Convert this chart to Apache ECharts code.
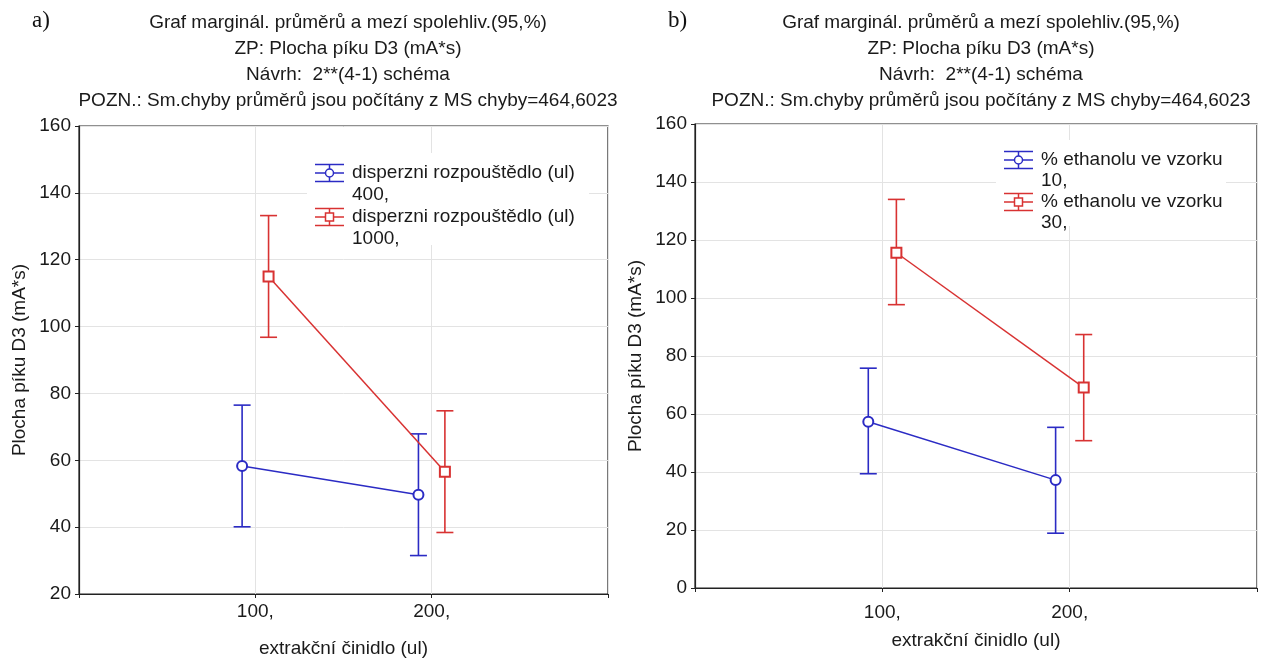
<!DOCTYPE html>
<html>
<head>
<meta charset="utf-8">
<script src="https://cdn.jsdelivr.net/npm/echarts@6/dist/echarts.min.js"></script>
<style>
html,body{margin:0;padding:0;background:#fff;}
#chart{width:1262px;height:663px;}
</style>
</head>
<body>
<div id="chart"></div>
<script>
// ---------- data ----------
const categories = ["100,", "200,"];
const titleLines = [
  "Graf marginál. průměrů a mezí spolehliv.(95,%)",
  "ZP: Plocha píku D3 (mA*s)",
  "Návrh:  2**(4-1) schéma",
  "POZN.: Sm.chyby průměrů jsou počítány z MS chyby=464,6023"
];
const yAxisTitle = "Plocha píku D3 (mA*s)";
const xAxisTitle = "extrakční činidlo (ul)";

// panel a
const aSeriesNames = [["disperzni rozpouštědlo (ul)", "400,"], ["disperzni rozpouštědlo (ul)", "1000,"]];
const aBlueMean = [58.3, 49.7];
const aBlueLow  = [40.1, 31.5];
const aBlueHigh = [76.5, 67.9];
const aRedMean  = [115.0, 56.6];
const aRedLow   = [96.8, 38.4];
const aRedHigh  = [133.2, 74.8];
const aYTicks = [20, 160, 20]; // min, max, step

// panel b
const bSeriesNames = [["% ethanolu ve vzorku", "10,"], ["% ethanolu ve vzorku", "30,"]];
const bBlueMean = [57.3, 37.2];
const bBlueLow  = [39.4, 18.9];
const bBlueHigh = [75.8, 55.4];
const bRedMean  = [115.6, 69.1];
const bRedLow   = [97.7, 50.8];
const bRedHigh  = [134.0, 87.4];
const bYTicks = [0, 160, 20];

// ---------- styling ----------
const BLUE = '#2b2bc4';
const RED = '#d83232';
const FONT = '"Liberation Sans", Arial, sans-serif';
const FS = 19;
const TXT = '#1a1a1a';
const OFF = 0.075;

const grids = [
  {left: 79, top: 126, width: 529, height: 470},
  {left: 695, top: 124, width: 562, height: 464}
];

function xAxisFor(i, lblMargin, gap) {
  return {
    type: 'value', gridIndex: i, min: 0, max: 3, interval: 1,
    name: xAxisTitle, nameLocation: 'middle', nameGap: gap,
    nameTextStyle: {fontFamily: FONT, fontSize: FS, color: TXT},
    axisLine: {show: true, lineStyle: {color: '#222', width: 1.2}},
    axisTick: {show: true, length: 4, lineStyle: {color: '#222'}},
    axisLabel: {fontFamily: FONT, fontSize: FS, color: TXT, margin: lblMargin,
      formatter: v => (v >= 1 && v <= categories.length) ? categories[v - 1] : ''},
    splitLine: {show: true, lineStyle: {color: '#e3e3e3', width: 1}}
  };
}
function yAxisFor(i, t) {
  return {
    type: 'value', gridIndex: i, min: t[0], max: t[1], interval: t[2],
    name: yAxisTitle, nameLocation: 'middle', nameGap: 50,
    nameTextStyle: {fontFamily: FONT, fontSize: FS, color: TXT},
    axisLine: {show: true, lineStyle: {color: '#222', width: 1.2}},
    axisTick: {show: true, length: 4, lineStyle: {color: '#222'}},
    axisLabel: {fontFamily: FONT, fontSize: FS, color: TXT, margin: 8},
    splitLine: {show: true, lineStyle: {color: '#e3e3e3', width: 1}}
  };
}

function pts(means, off) { return means.map((m, k) => [k + 1 + off, m]); }
function bars(lows, highs, off) { return lows.map((l, k) => [k + 1 + off, l, highs[k]]); }

function errSeries(i, data, color, name) {
  return {
    type: 'custom', name: name, xAxisIndex: i, yAxisIndex: i, z: 3,
    data: data, encode: {x: 0, y: [1, 2]},
    renderItem: function (params, api) {
      const x = api.value(0);
      const lo = api.coord([x, api.value(1)]);
      const hi = api.coord([x, api.value(2)]);
      const w = 8.5;
      const st = {stroke: color, lineWidth: 1.6};
      return {type: 'group', children: [
        {type: 'line', shape: {x1: lo[0], y1: lo[1], x2: hi[0], y2: hi[1]}, style: st},
        {type: 'line', shape: {x1: lo[0] - w, y1: lo[1], x2: lo[0] + w, y2: lo[1]}, style: st},
        {type: 'line', shape: {x1: hi[0] - w, y1: hi[1], x2: hi[0] + w, y2: hi[1]}, style: st}
      ]};
    }
  };
}
function lineSeries(i, data, color, symbol, name) {
  return {
    type: 'line', name: name, xAxisIndex: i, yAxisIndex: i, z: 4,
    data: data, symbol: symbol, symbolSize: 10,
    lineStyle: {color: color, width: 1.5},
    itemStyle: {color: color, borderColor: color, borderWidth: 1.5},
    animation: false
  };
}

function legendGroup(x, y, names, step, lh, bgW, bgH) {
  const Z = 20;
  const children = [{type: 'rect', z: Z, shape: {x: -8, y: -20, width: bgW, height: bgH}, style: {fill: '#ffffff', stroke: null}}];
  const colors = [BLUE, RED];
  names.forEach((nm, k) => {
    const cy = k * step;
    const c = colors[k];
    const st = {stroke: c, lineWidth: 1.5, fill: null};
    children.push({type: 'line', z: Z + 1, shape: {x1: 0, y1: cy - 8.5, x2: 29, y2: cy - 8.5}, style: st});
    children.push({type: 'line', z: Z + 1, shape: {x1: 0, y1: cy, x2: 29, y2: cy}, style: st});
    children.push({type: 'line', z: Z + 1, shape: {x1: 0, y1: cy + 8.5, x2: 29, y2: cy + 8.5}, style: st});
    children.push({type: 'line', z: Z + 1, shape: {x1: 14.5, y1: cy - 8.5, x2: 14.5, y2: cy + 8.5}, style: st});
    if (k === 0) children.push({type: 'circle', z: Z + 2, shape: {cx: 14.5, cy: cy, r: 4}, style: {stroke: c, lineWidth: 1.5, fill: '#fff'}});
    else children.push({type: 'rect', z: Z + 2, shape: {x: 10.5, y: cy - 4, width: 8, height: 8}, style: {stroke: c, lineWidth: 1.5, fill: '#fff'}});
    nm.forEach((ln, j) => {
      children.push({type: 'text', z: Z + 2, x: 37, y: cy + j * lh, style: {text: ln, fontSize: FS, fontFamily: FONT, fill: TXT, verticalAlign: 'middle', textVerticalAlign: 'middle'}});
    });
  });
  return {type: 'group', x: x, y: y, z: Z, children: children};
}

const chart = echarts.init(document.getElementById('chart'), null, {renderer: 'canvas'});
chart.setOption({
  animation: false,
  backgroundColor: '#fff',
  title: [
    {text: titleLines.join('\n'), left: 343, top: 5, textAlign: 'center',
     textStyle: {fontFamily: FONT, fontSize: FS, fontWeight: 'normal', color: TXT, lineHeight: 26}},
    {text: titleLines.join('\n'), left: 976, top: 5, textAlign: 'center',
     textStyle: {fontFamily: FONT, fontSize: FS, fontWeight: 'normal', color: TXT, lineHeight: 26}}
  ],
  grid: grids.map(g => Object.assign({show: true, borderColor: '#222', borderWidth: 1.2, backgroundColor: 'transparent'}, g)),
  xAxis: [xAxisFor(0, 8, 45), xAxisFor(1, 15, 43)],
  yAxis: [yAxisFor(0, aYTicks), yAxisFor(1, bYTicks)],
  series: [
    errSeries(0, bars(aBlueLow, aBlueHigh, -OFF), BLUE, aSeriesNames[0].join(' ')),
    errSeries(0, bars(aRedLow, aRedHigh, OFF), RED, aSeriesNames[1].join(' ')),
    lineSeries(0, pts(aBlueMean, -OFF), BLUE, 'emptyCircle', aSeriesNames[0].join(' ')),
    lineSeries(0, pts(aRedMean, OFF), RED, 'emptyRect', aSeriesNames[1].join(' ')),
    errSeries(1, bars(bBlueLow, bBlueHigh, -OFF), BLUE, bSeriesNames[0].join(' ')),
    errSeries(1, bars(bRedLow, bRedHigh, OFF), RED, bSeriesNames[1].join(' ')),
    lineSeries(1, pts(bBlueMean, -OFF), BLUE, 'emptyCircle', bSeriesNames[0].join(' ')),
    lineSeries(1, pts(bRedMean, OFF), RED, 'emptyRect', bSeriesNames[1].join(' '))
  ],
  graphic: [
    legendGroup(315, 173, aSeriesNames, 44, 21.8, 282, 92),
    legendGroup(1004, 160, bSeriesNames, 42, 21, 230, 86),
    {type: 'text', left: 32, top: 9, style: {text: 'a)', font: '23px "Liberation Serif", "Times New Roman", serif', fill: '#111'}},
    {type: 'text', left: 668, top: 9, style: {text: 'b)', font: '23px "Liberation Serif", "Times New Roman", serif', fill: '#111'}}
  ]
});
</script>
</body>
</html>
